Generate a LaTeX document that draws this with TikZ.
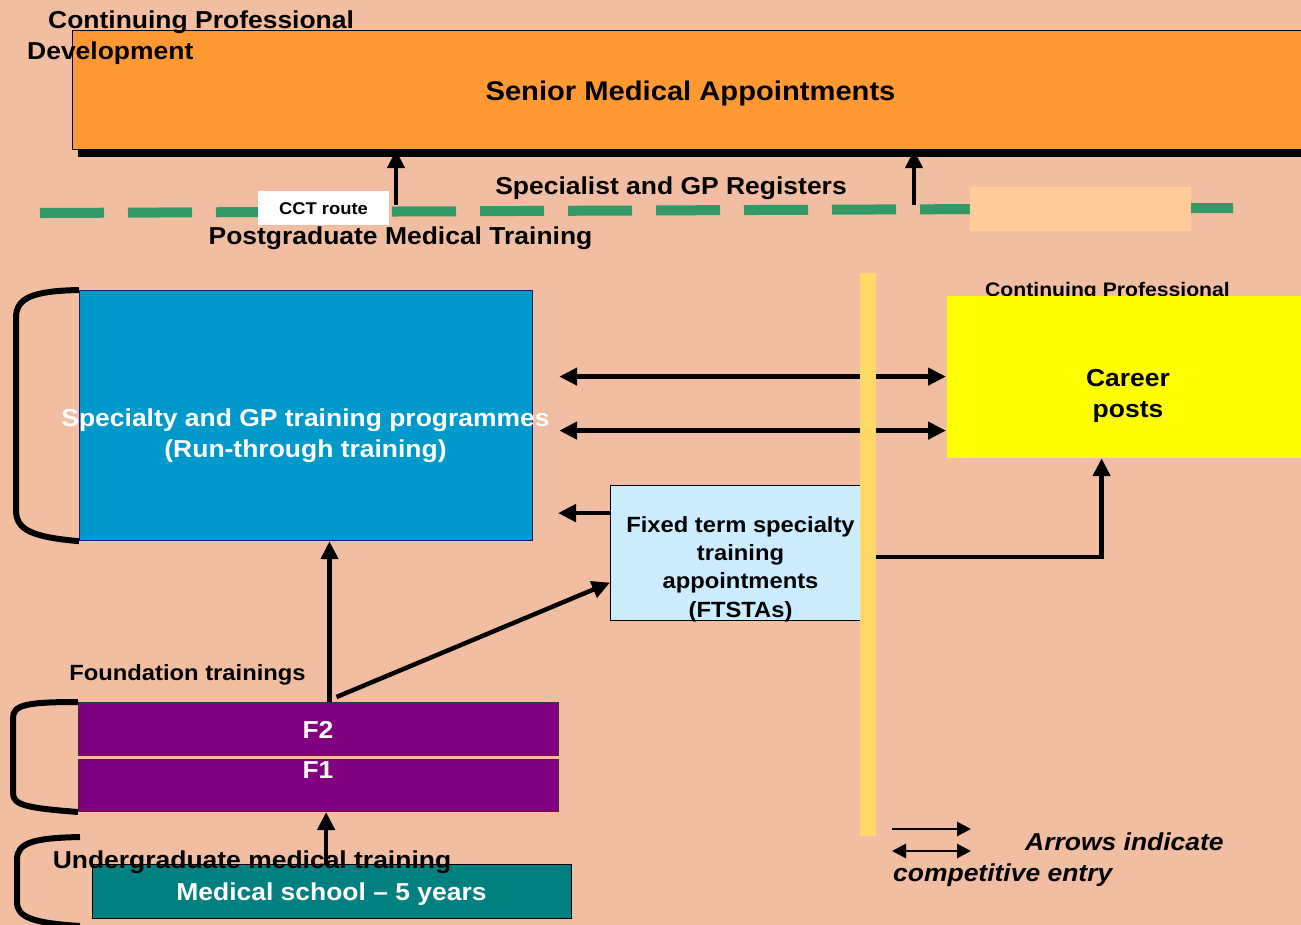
\documentclass[tikz,border=0pt]{standalone}
\usepackage{fontspec}
\setmainfont{Liberation Sans}[FakeStretch=1.08]
\usetikzlibrary{arrows.meta,positioning,shadows}
\definecolor{bgsalmon}{HTML}{F2BEA2}
\definecolor{orangebox}{HTML}{FF9933}
\definecolor{progblue}{HTML}{0099CC}
\definecolor{navyline}{HTML}{1A1A80}
\definecolor{ftstablue}{HTML}{CCECFF}
\definecolor{careeryellow}{HTML}{FFFF00}
\definecolor{barcolor}{HTML}{FFD966}
\definecolor{fpurple}{HTML}{800080}
\definecolor{medteal}{HTML}{008080}
\definecolor{dashgreen}{HTML}{339966}
\definecolor{peach}{HTML}{FFCC99}

\begin{document}
\begin{tikzpicture}[x=1pt,y=-1pt,
    box/.style={draw=black,line width=1.2pt,inner sep=0pt,anchor=north west},
    lbl/.style={font=\bfseries\fontsize{24.5}{31}\selectfont,align=center,inner sep=0pt},
    mid/.style={font=\bfseries\fontsize{22}{28.3}\selectfont,align=center,inner sep=0pt},
    legend/.style={font=\bfseries\itshape\fontsize{24.5}{30.5}\selectfont,align=left,inner sep=0pt},
    arr/.style={line width=4.5pt,-{Triangle[length=18pt,width=17pt]}},
    dbl/.style={line width=4.5pt,{Triangle[length=18pt,width=17pt]}-{Triangle[length=18pt,width=17pt]}},
    thinarr/.style={line width=2.8pt,-{Triangle[length=14pt,width=14pt]}},
    thindbl/.style={line width=2.8pt,{Triangle[length=14pt,width=14pt]}-{Triangle[length=14pt,width=14pt]}},
    bracket/.style={line width=6pt},
    greendash/.style={draw=dashgreen,line width=10pt,dash pattern=on 64pt off 24pt},
  ]
  % page and background
  \fill[bgsalmon] (0,0) rectangle (1301,925);
  \useasboundingbox (0,0) rectangle (1301,925);
  \clip (0,0) rectangle (1301,925);

  % senior appointments on top
  \node[box,fill=orangebox,minimum width=1250pt,minimum height=119pt,
        drop shadow={shadow xshift=5pt,shadow yshift=-7pt,fill=black,opacity=1}] (senior) at (72,30) {};
  \node[lbl,font=\bfseries\fontsize{27}{34}\selectfont,anchor=base] (seniortxt) at (690.5,101) {Senior Medical Appointments};
  \node[lbl,align=left,anchor=base west] (cpdtop) at (27,60) {\hspace*{21pt}Continuing Professional\\Development};

  % registers line
  \draw[greendash] (40,213) -- (1233,208);
  \node[fill=peach,inner sep=0pt,anchor=north west,minimum width=221pt,minimum height=44pt] (blank) at (970,187) {};
  \node[fill=white,inner sep=0pt,minimum width=131pt,minimum height=34pt,
        font=\bfseries\fontsize{17}{20}\selectfont] (cct) at (323.5,208.5) {CCT route};
  \coordinate (reg1) at (396,205);
  \coordinate (reg2) at (914,205);
  \draw[arr] (reg1) -- (reg1 |- senior.south);
  \draw[arr] (reg2) -- (reg2 |- senior.south);
  \node[lbl,anchor=base] (registers) at (671,195) {Specialist and GP Registers};
  \node[lbl,anchor=base] (pgmt) at (400.5,245) {Postgraduate Medical Training};

  % career posts
  \node[lbl,font=\bfseries\fontsize{19.6}{24}\selectfont,anchor=base] (cpdright) at (1107.5,297) {Continuing Professional};
  \node[box,draw=none,fill=careeryellow,minimum width=364pt,minimum height=162pt] (career) at (946,295) {};
  \node[lbl,anchor=base] (careertxt) at (1128,417) {Career\\posts};

  % run-through training and FTSTAs
  \node[box,draw=navyline,fill=progblue,minimum width=453pt,minimum height=250pt] (prog) at (79,290) {};
  \node[lbl,white,anchor=base] (progtxt) at (305.5,457) {Specialty and GP training programmes\\(Run-through training)};
  \node[box,fill=ftstablue,minimum width=260pt,minimum height=135pt] (ftsta) at (610,485) {};
  \node[mid,anchor=base] (ftstatxt) at (740.5,617) {Fixed term specialty\\training\\appointments\\(FTSTAs)};

  \draw[dbl] ([xshift=26pt]prog.east |- career.west) -- (career.west);
  \draw[dbl] ([shift={(26pt,-15pt)}]prog.east) -- ([yshift=-54pt]career.west);
  \draw[arr] ([yshift=40pt]ftsta.west) -- ++(-52,0);
  \draw[arr] ([yshift=-4pt]ftsta.east) -| ([xshift=-27pt]career.south);
  \node[fill=barcolor,inner sep=0pt,anchor=north west,minimum width=16pt,minimum height=563pt] (bar) at (860,273) {};

  % foundation years
  \node[mid,anchor=base] (found) at (187.5,680) {Foundation trainings};
  \node[box,draw=black!80,line width=1pt,fill=fpurple,minimum width=480pt,minimum height=53pt] (f2) at (78,702) {};
  \node[box,draw=black!80,line width=1pt,fill=fpurple,minimum width=480pt,minimum height=52pt,
        below right=3pt and 0pt of f2.south west] (f1) {};
  \node[lbl,white,anchor=base] (f2txt) at (318,738) {F2};
  \node[lbl,white,anchor=base] (f1txt) at (318,778) {F1};
  \draw[arr] ([xshift=11pt]f2.north) -- ([xshift=11pt]f2.north |- prog.south);
  \draw[arr] ([shift={(18pt,5pt)}]f2.north) -- ([yshift=-29.5pt]ftsta.west);

  % medical school
  \node[box,fill=medteal,minimum width=479pt,minimum height=54pt] (med) at (92,864) {};
  \draw[arr] ([xshift=-6pt]med.north) -- ([xshift=-6pt]med.north |- f1.south);
  \node[lbl,anchor=base] (ugtxt) at (252,868) {Undergraduate medical training};
  \node[lbl,white,anchor=base] (medtxt) at (331.5,900) {Medical school – 5 years};

  % brackets
  \draw[bracket] (prog.north west) .. controls (32,291) and (16,298) .. (16,318)
    -- (16,510) .. controls (16,530) and (32,537) .. (prog.south west);
  \draw[bracket] (f2.north west) .. controls (26,702) and (13,705) .. (13,718)
    -- (13,793) .. controls (13,805) and (26,808) .. (f1.south west);
  \coordinate (ugtop) at (80,837);
  \coordinate (ugbot) at (80,926);
  \draw[bracket] (ugtop) .. controls (32,838) and (17,843) .. (17,860)
    -- (17,902) .. controls (17,917) and (32,923) .. (ugbot);

  % legend
  \coordinate (leg1) at (892,829);
  \coordinate (leg2) at (892,851);
  \draw[thinarr] (leg1) -- ++(79,0);
  \draw[thindbl] (leg2) -- ++(79,0);
  \node[legend,anchor=base west] (legtxt) at (893,881) {\hspace*{132pt}Arrows indicate\\competitive entry};
\end{tikzpicture}
\end{document}
